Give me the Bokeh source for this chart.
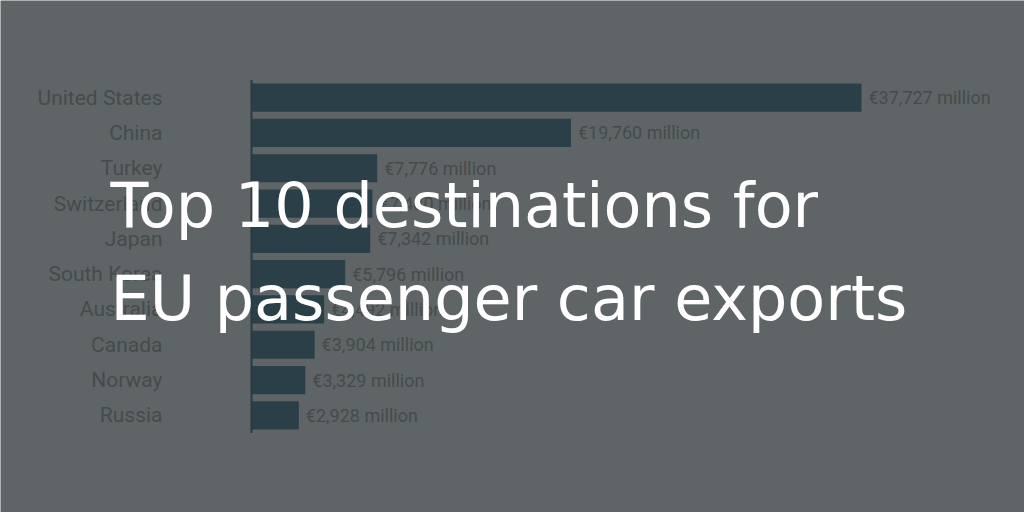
from bokeh.plotting import figure
from bokeh.models import ColumnDataSource, Label, FactorRange, Range1d
from bokeh.core.properties import value
from bokeh.embed import file_html
from bokeh.resources import INLINE

countries = ["United States", "China", "Turkey", "Switzerland", "Japan",
             "South Korea", "Australia", "Canada", "Norway", "Russia"]
exports = [37727, 19760, 7776, 7480, 7342, 5796, 4492, 3904, 3329, 2928]
value_labels = ["€{:,} million".format(v) for v in exports]
title_lines = ["Top 10 destinations for", "EU passenger car exports"]

BG = "#5f6566"
BAR = "#2b3f49"
TXT = "#454b4c"
AXIS = "#2a3a40"

W, H = 1024, 512
AXIS_PX = 251          # screen x of the value axis origin
MAX_BAR_PX = 610       # pixel length of the longest bar
BAND_TOP, BAND_BOT = 80, 433

n = len(countries)
per_px = max(exports) / MAX_BAR_PX
x_range = Range1d(-AXIS_PX * per_px, (W - AXIS_PX) * per_px)
band_px = (BAND_BOT - BAND_TOP) / n
y_range = FactorRange(factors=list(reversed(countries)),
                      range_padding=(H / band_px - n) / 2,
                      range_padding_units="absolute")

src = ColumnDataSource(dict(country=countries, exports=exports, label=value_labels))

p = figure(width=W, height=H, x_range=x_range, y_range=y_range,
           output_backend="svg", toolbar_location=None,
           min_border=0, x_axis_location=None, y_axis_location=None)
p.background_fill_color = BG
p.border_fill_color = BG
p.outline_line_color = None
p.grid.grid_line_color = None

p.hbar(y="country", right="exports", left=0, height=0.8, source=src,
       fill_color=BAR, line_color=None)

# value axis line along the bars' origin
p.segment(x0=[0], x1=[0], y0=[0], y1=[n], line_color=AXIS, line_width=2)

# category labels
p.text(x=0, y="country", text="country", source=src, x_offset=-89,
       text_baseline="middle", text_align="right", text_font=value("Roboto"),
       text_font_size="21px", text_color=TXT)

# value labels
p.text(x="exports", y="country", text="label", source=src, x_offset=7,
       text_baseline="middle", text_align="left", text_font=value("Roboto"),
       text_font_size="18px", text_color=TXT)

for txt, mid in zip(title_lines, [205, 298]):
    p.add_layout(Label(x=110, y=H - mid, x_units="screen", y_units="screen",
                       text=txt, text_font="DejaVu Sans", text_font_size="62px",
                       text_color="white", text_baseline="alphabetic"))

html = file_html(p, INLINE)
html = html.replace("<body>", '<body style="background:%s">' % BG, 1)
open("out.html", "w").write(html)
